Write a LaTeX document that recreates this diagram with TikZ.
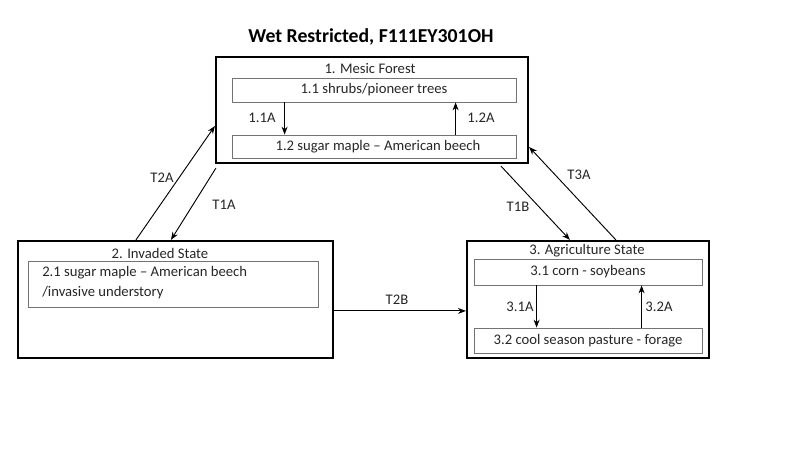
\documentclass[tikz,border=0pt]{standalone}
\usepackage{fontspec}
\setmainfont{Carlito}
\usetikzlibrary{fit,calc,arrows.meta}
\begin{document}
\begin{tikzpicture}[x=0.75pt,y=-0.75pt,
  outer/.style={draw=black,line width=1.6pt,inner sep=0pt},
  inner/.style={draw=black!55,line width=0.6pt,inner sep=0pt},
  lbl/.style={font=\fontsize{11}{13}\selectfont,inner sep=0pt,text=black!85},
  conn/.style={line width=0.7pt,-{Stealth[length=6pt,width=4.5pt]}}]
\useasboundingbox (0,0) rectangle (800,450);
\node[font=\bfseries\fontsize{14.8}{17}\selectfont,inner sep=0pt] (title) at (371,37) {Wet Restricted, F111EY301OH};
% box 1
\node[outer,fit={(216,57) (528,163)}] (b1) {};
\node[lbl] (b1t) at (370,69) {1. Mesic Forest};
\node[inner,fit={(232,78) (516,102)}] (i11) {};
\node[lbl] (i11t) at (374,90) {1.1 shrubs/pioneer trees};
\node[inner,fit={(232,135) (516,158)}] (i12) {};
\node[lbl] (i12t) at (378,147) {1.2 sugar maple -- American beech};
% box 2
\node[outer,fit={(18,241) (333,358)}] (b2) {};
\node[lbl] (b2t) at (160,253) {2. Invaded State};
\node[inner,fit={(28,261) (318,307)}] (i21) {};
\node[lbl,anchor=north west,align=left,font=\fontsize{11}{15}\selectfont] (i21t) at (42,266) {2.1 sugar maple -- American beech\\/invasive understory};
% box 3
\node[outer,fit={(467,241) (709,358)}] (b3) {};
\node[lbl] (b3t) at (587,251) {3. Agriculture State};
\node[inner,fit={(474,259) (702,285)}] (i31) {};
\node[lbl] (i31t) at (588,272) {3.1 corn - soybeans};
\node[inner,fit={(474,328) (702,353)}] (i32) {};
\node[lbl] (i32t) at (588,341) {3.2 cool season pasture - forage};
% inner transitions
\draw[conn] ($(i11.south west)+(53,0)$) -- ($(i12.north west)+(53,0)$);
\node[lbl] (l11a) at (262,118) {1.1A};
\draw[conn] ($(i12.north west)+(224,0)$) -- ($(i11.south west)+(224,0)$);
\node[lbl] (l12a) at (481,118) {1.2A};
\draw[conn] ($(i31.south west)+(63,0)$) -- ($(i32.north west)+(63,0)$);
\node[lbl] (l31a) at (520,307) {3.1A};
\draw[conn] ($(i32.north west)+(168,0)$) -- ($(i31.south west)+(168,0)$);
\node[lbl] (l32a) at (659,307) {3.2A};
% state transitions
\draw[conn] ($(b2.north west)+(119,0)$) -- ($(b1.north west)+(0,70)$);
\node[lbl] (lt2a) at (162,178) {T2A};
\draw[conn] ($(b1.south west)+(1,4)$) -- ($(b2.north west)+(154,0)$);
\node[lbl] (lt1a) at (224,205) {T1A};
\draw[conn] ($(b1.south west)+(286,2)$) -- ($(b3.north west)+(104,0)$);
\node[lbl] (lt1b) at (518,207) {T1B};
\draw[conn] ($(b3.north west)+(150,0)$) -- ($(b1.north east)+(0,91)$);
\node[lbl] (lt3a) at (579,175) {T3A};
\draw[conn] ($(b2.north east)+(0,71)$) -- ($(b3.north west)+(0,71)$);
\node[lbl] (lt2b) at (397,300) {T2B};
\end{tikzpicture}
\end{document}
